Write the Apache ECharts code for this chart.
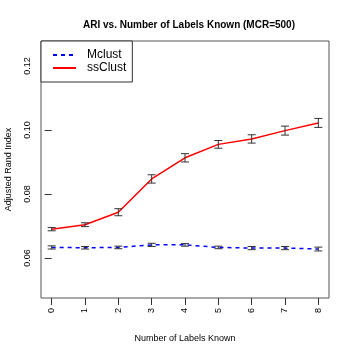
<!DOCTYPE html>
<html>
<head>
<meta charset="utf-8">
<script src="https://cdn.jsdelivr.net/npm/echarts@6/dist/echarts.min.js"></script>
<style>
  html, body { margin: 0; padding: 0; background: #fff; }
  #chart { width: 350px; height: 350px; }
</style>
</head>
<body>
<div id="chart"></div>
<script>
// values
var labelsKnown = [0, 1, 2, 3, 4, 5, 6, 7, 8]
var mclustMean = [0.0633, 0.0632, 0.0633, 0.0641, 0.0641, 0.0633, 0.0631, 0.0631, 0.0628]
var mclustErr = [0.0005, 0.0004, 0.0004, 0.0005, 0.0004, 0.0004, 0.0005, 0.0005, 0.0006]
var ssclustMean = [0.0690, 0.0704, 0.0743, 0.0847, 0.0913, 0.0955, 0.0972, 0.0998, 0.1022]
var ssclustErr = [0.0005, 0.0006, 0.0011, 0.0013, 0.0013, 0.0012, 0.0013, 0.0014, 0.0014]
var yTicks = [0.06, 0.08, 0.10, 0.12]

var font = 'Liberation Sans, Arial, Helvetica, sans-serif'

function points(ys) {
  return labelsKnown.map(function (x, i) { return [x, ys[i]] })
}
function errRanges(ys, es) {
  return labelsKnown.map(function (x, i) { return [x, ys[i] - es[i], ys[i] + es[i]] })
}

function renderErr(params, api) {
  var lo = api.coord([api.value(0), api.value(1)])
  var hi = api.coord([api.value(0), api.value(2)])
  var w = 4
  var style = { stroke: '#333', lineWidth: 1, fill: null }
  return {
    type: 'group',
    children: [
      { type: 'line', shape: { x1: hi[0], y1: hi[1], x2: lo[0], y2: lo[1] }, style: style },
      { type: 'line', shape: { x1: hi[0] - w, y1: hi[1], x2: hi[0] + w, y2: hi[1] }, style: style },
      { type: 'line', shape: { x1: lo[0] - w, y1: lo[1], x2: lo[0] + w, y2: lo[1] }, style: style }
    ]
  }
}

var chart = echarts.init(document.getElementById('chart'))
chart.setOption({
  animation: false,
  title: {
    text: 'ARI vs. Number of Labels Known (MCR=500)',
    left: 184,
    textAlign: 'center',
    top: 15,
    textStyle: { fontFamily: font, fontSize: 10, fontWeight: 'bold', color: '#000' }
  },
  grid: {
    left: 41, right: 21, top: 41, bottom: 52,
    outerBoundsMode: 'none',
    containLabel: false,
    show: true, borderColor: '#555', borderWidth: 1
  },
  legend: {
    orient: 'vertical',
    left: 41,
    top: 41,
    padding: [8, 6, 8, 11],
    itemGap: 1,
    itemWidth: 23,
    itemHeight: 14,
    borderColor: '#333',
    borderWidth: 1,
    backgroundColor: '#fff',
    itemStyle: { opacity: 0 },
    textStyle: { fontFamily: font, fontSize: 12, color: '#000', padding: [0, 0, 0, 6] },
    data: ['Mclust', 'ssClust']
  },
  xAxis: {
    type: 'value',
    min: -0.32,
    max: 8.32,
    name: 'Number of Labels Known',
    nameLocation: 'middle',
    nameGap: 36,
    nameTextStyle: { fontFamily: font, fontSize: 9, color: '#000' },
    axisLine: { show: false },
    splitLine: { show: false },
    axisTick: { show: true, length: 7, customValues: labelsKnown, lineStyle: { color: '#333' } },
    axisLabel: { customValues: labelsKnown, rotate: 90, margin: 10, fontFamily: font, fontSize: 9, color: '#000' }
  },
  yAxis: {
    type: 'value',
    min: 0.0475,
    max: 0.1278,
    name: 'Adjusted Rand Index',
    nameLocation: 'middle',
    nameRotate: 90,
    nameGap: 28,
    nameTextStyle: { fontFamily: font, fontSize: 9, color: '#000' },
    axisLine: { show: false },
    splitLine: { show: false },
    axisTick: { show: true, length: 7, customValues: yTicks, lineStyle: { color: '#333' } },
    axisLabel: {
      customValues: yTicks, rotate: 90, margin: 9, align: 'center', verticalAlign: 'bottom',
      fontFamily: font, fontSize: 9, color: '#000',
      formatter: function (v) { return v.toFixed(2) }
    }
  },
  series: [
    {
      name: 'Mclust',
      type: 'line',
      data: points(mclustMean),
      symbol: 'none',
      color: '#0000ff',
      lineStyle: { color: '#0000ff', width: 1.5, type: [4, 4] },
      z: 2
    },
    {
      name: 'ssClust',
      type: 'line',
      data: points(ssclustMean),
      symbol: 'none',
      color: '#ff0000',
      lineStyle: { color: '#ff0000', width: 1.5 },
      z: 2
    },
    {
      type: 'custom',
      data: errRanges(mclustMean, mclustErr),
      renderItem: renderErr,
      z: 3
    },
    {
      type: 'custom',
      data: errRanges(ssclustMean, ssclustErr),
      renderItem: renderErr,
      z: 3
    }
  ]
})
</script>
</body>
</html>
